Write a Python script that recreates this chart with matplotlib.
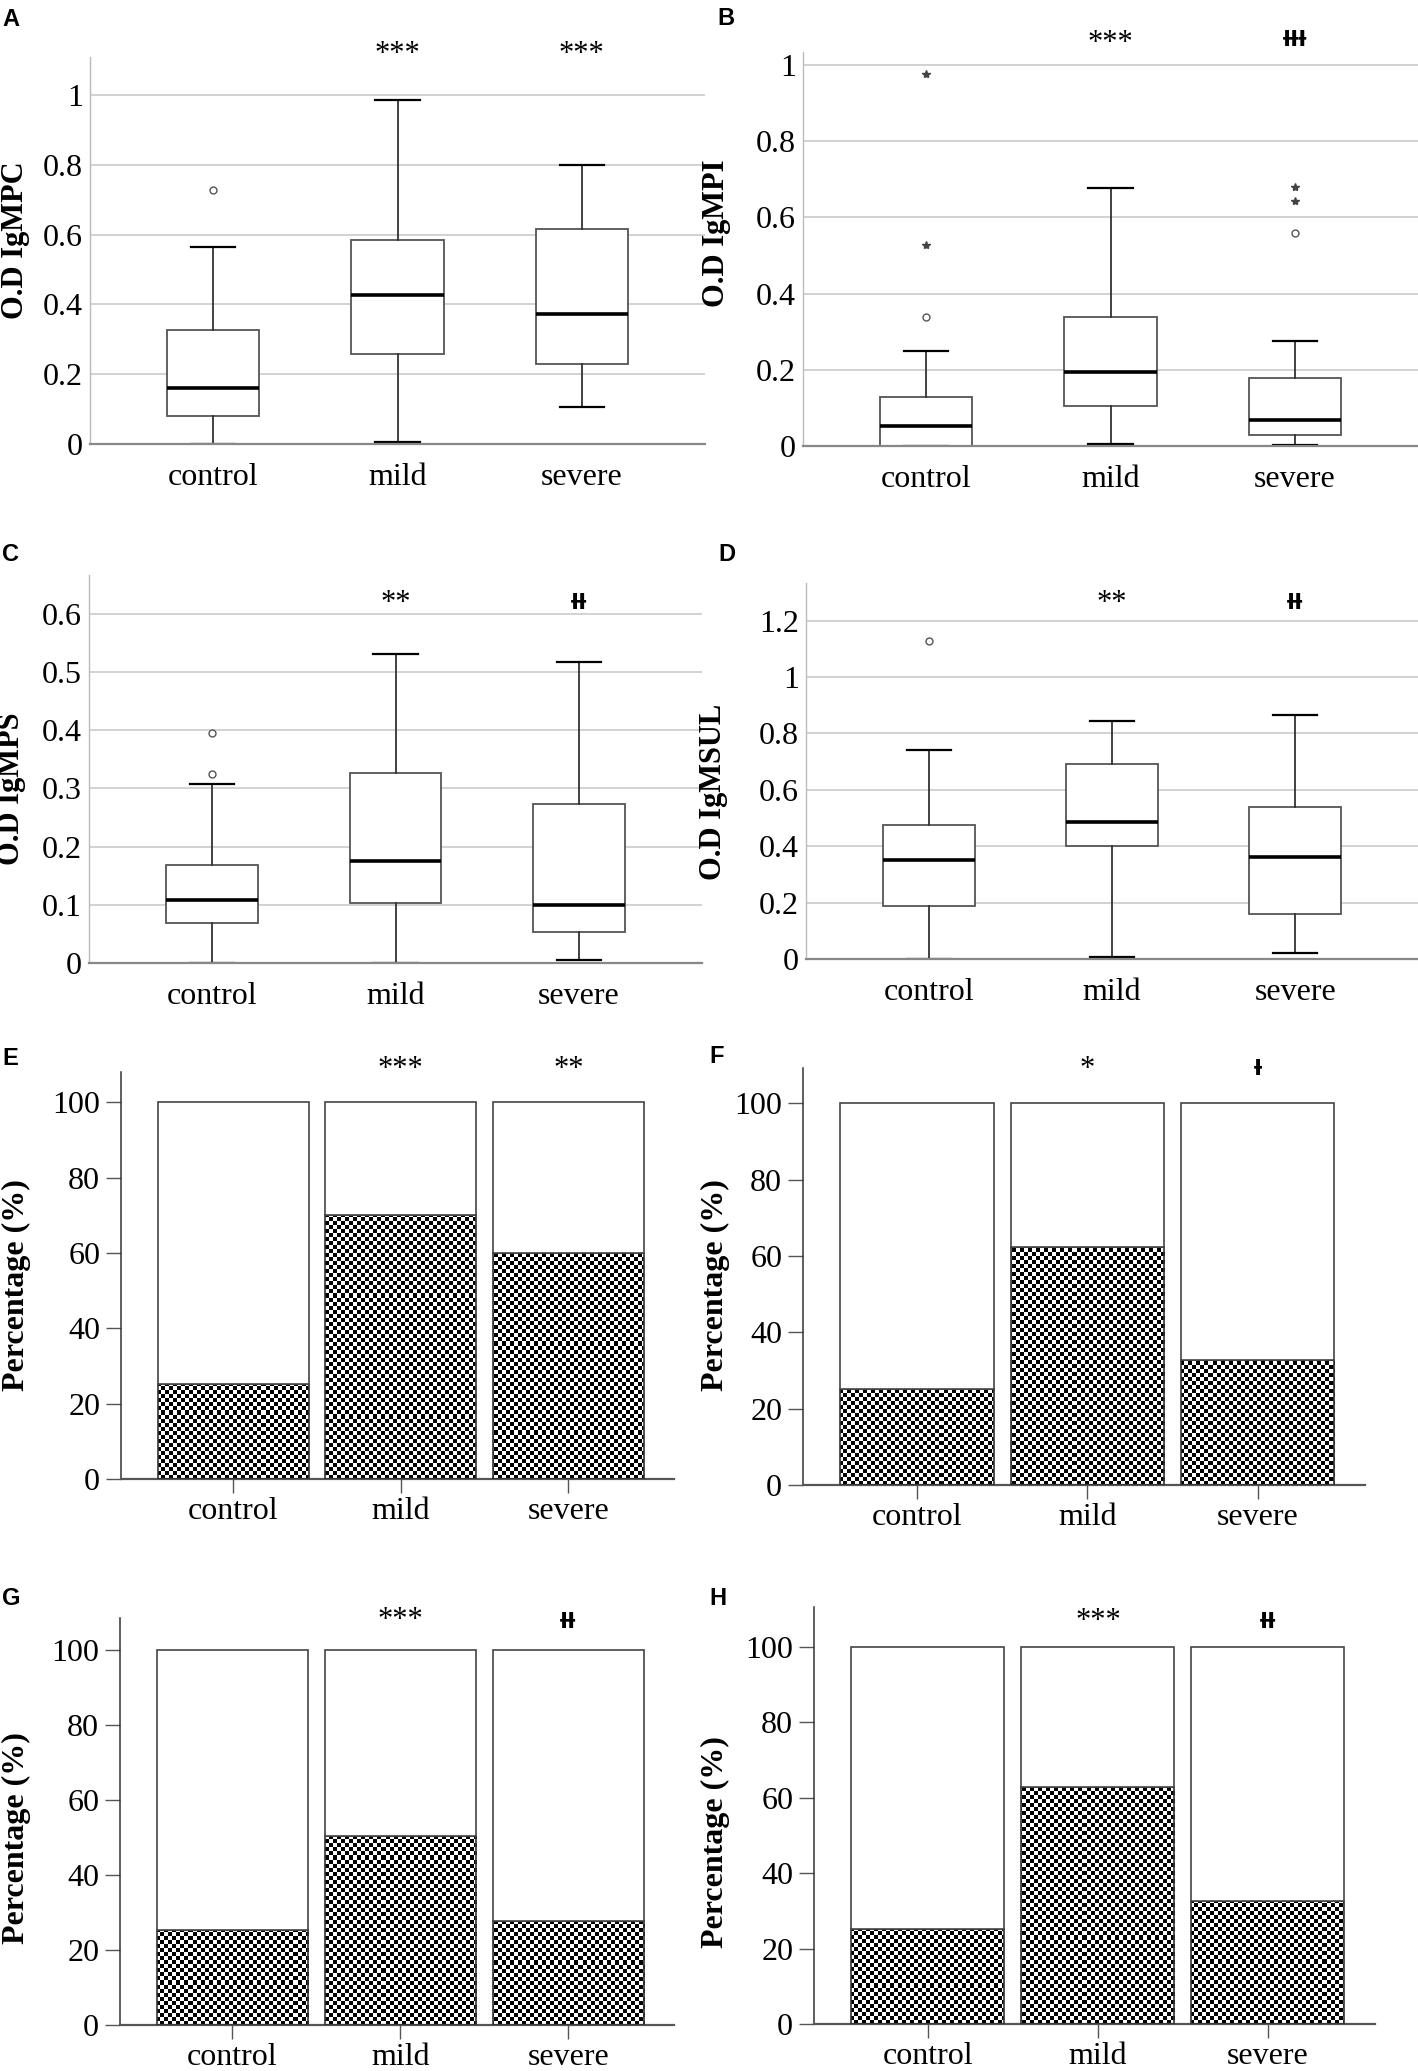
import matplotlib.pyplot as plt
import numpy as np

groups = ['control', 'mild', 'severe']

# A - IgMPC box summaries
mpc_lo = [0.0, 0.005, 0.107]
mpc_q1 = [0.081, 0.259, 0.228]
mpc_med = [0.160, 0.428, 0.373]
mpc_q3 = [0.326, 0.585, 0.617]
mpc_hi = [0.564, 0.985, 0.800]
mpc_circ = [[0.727], [], []]
mpc_star = [[], [], []]

# B - IgMPI
mpi_lo = [0.0, 0.004, 0.003]
mpi_q1 = [0.0, 0.106, 0.030]
mpi_med = [0.052, 0.193, 0.067]
mpi_q3 = [0.129, 0.339, 0.178]
mpi_hi = [0.249, 0.676, 0.276]
mpi_circ = [[0.339], [], [0.56]]
mpi_star = [[0.528, 0.977], [], [0.643, 0.68]]

# C - IgMPS
mps_lo = [0.0, 0.0, 0.005]
mps_q1 = [0.068, 0.103, 0.053]
mps_med = [0.109, 0.176, 0.099]
mps_q3 = [0.169, 0.326, 0.273]
mps_hi = [0.307, 0.532, 0.517]
mps_circ = [[0.325, 0.395], [], []]
mps_star = [[], [], []]

# D - IgMSUL
msul_lo = [0.0, 0.006, 0.02]
msul_q1 = [0.187, 0.402, 0.16]
msul_med = [0.35, 0.487, 0.361]
msul_q3 = [0.474, 0.692, 0.54]
msul_hi = [0.741, 0.842, 0.864]
msul_circ = [[1.127], [], []]
msul_star = [[], [], []]

# E-H percentage of positives
pct_E = [25.2, 70.0, 60.0]
pct_F = [25.1, 62.4, 32.7]
pct_G = [25.2, 50.3, 27.7]
pct_H = [25.2, 62.9, 32.7]

sig_A = ['', '***', '***']
sig_B = ['', '***', 'ƗƗƗ']
sig_C = ['', '**', 'ƗƗ']
sig_D = ['', '**', 'ƗƗ']
sig_E = ['', '***', '**']
sig_F = ['', '*', 'Ɨ']
sig_G = ['', '***', 'ƗƗ']
sig_H = ['', '***', 'ƗƗ']

W, H = 1418, 2071
fig = plt.figure(figsize=(W / 100, H / 100), dpi=100)
serif = 'Liberation Serif'


def add_ax(left, right, top, bottom):
    return fig.add_axes([left / W, 1 - bottom / H, (right - left) / W, (bottom - top) / H])


def fmt(v):
    return '{:g}'.format(round(v, 2))


def put_sig(ax, sig, ys_star, ys_bar):
    for i, s in enumerate(sig):
        if not s:
            continue
        if '*' in s:
            ax.annotate(s, (i + 1, ys_star), xytext=(0, -6), textcoords='offset points',
                        ha='center', va='center', fontsize=22, family=serif,
                        annotation_clip=False)
        else:
            ax.text(i + 1, ys_bar, s, ha='center', va='center', fontsize=15,
                    family='DejaVu Sans', fontweight='bold', clip_on=False)


def box_panel(ax, lo, q1, med, q3, hi, circ, star, ymax, yticks, ylabel, labx, laby, sig, ys, yb):
    stats = []
    for i in range(3):
        stats.append(dict(whislo=lo[i], q1=q1[i], med=med[i], q3=q3[i], whishi=hi[i], fliers=[]))
    ax.bxp(stats, positions=[1, 2, 3], widths=0.5, capwidths=0.24, patch_artist=True,
           showfliers=False,
           boxprops=dict(facecolor='white', edgecolor='#555555', linewidth=1.3),
           medianprops=dict(color='black', linewidth=2.6),
           whiskerprops=dict(color='#333333', linewidth=1.3),
           capprops=dict(color='black', linewidth=1.6))
    for i in range(3):
        if circ[i]:
            ax.plot([i + 1] * len(circ[i]), circ[i], 'o', ms=5, mfc='white', mec='#555555',
                    mew=1.0, clip_on=False)
        if star[i]:
            ax.plot([i + 1] * len(star[i]), star[i], '*', ms=6, color='#444444', clip_on=False)
    ax.set_xlim(0.33, 3.67)
    ax.set_ylim(0, ymax)
    ax.set_yticks(yticks)
    ax.set_yticklabels([fmt(v) for v in yticks])
    ax.set_xticks([1, 2, 3])
    ax.set_xticklabels(groups)
    ax.yaxis.grid(True, color='#d2d2d2', linewidth=1.4)
    ax.set_axisbelow(True)
    ax.tick_params(axis='both', length=0, labelsize=23)
    ax.tick_params(axis='x', pad=14)
    ax.tick_params(axis='y', pad=5)
    for lab in ax.get_xticklabels() + ax.get_yticklabels():
        lab.set_family(serif)
    ax.spines['top'].set_visible(False)
    ax.spines['right'].set_visible(False)
    ax.spines['left'].set_color('#bbbbbb')
    ax.spines['left'].set_linewidth(1.0)
    ax.spines['bottom'].set_color('#888888')
    ax.spines['bottom'].set_linewidth(1.6)
    ax.set_ylabel(ylabel, fontsize=22, fontweight='bold', family=serif)
    ax.yaxis.set_label_coords(labx, laby)
    put_sig(ax, sig, ys, yb)


def bar_panel(ax, pct, ymax, labx, laby, sig, ys, yb):
    x = np.arange(1, 4)
    ax.set_xlim(0.33, 3.63)
    ax.set_ylim(0, ymax)
    pos = ax.get_position()
    nx = int(pos.width * W / 4)
    ny = int(pos.height * H / 4)
    checker = np.indices((ny, nx)).sum(axis=0) % 2
    pos_bars = ax.bar(x, pct, width=0.9, facecolor='none', edgecolor='#333333', linewidth=1.2, zorder=3)
    ax.bar(x, [100 - p for p in pct], bottom=pct, width=0.9, facecolor='white',
           edgecolor='#444444', linewidth=1.2, zorder=3)
    for b in pos_bars:
        im = ax.imshow(checker, extent=(0.33, 3.63, 0, ymax), origin='lower', cmap='gray',
                       vmin=0, vmax=1, interpolation='nearest', aspect='auto', zorder=2)
        im.set_clip_path(b)
    ax.set_xlim(0.33, 3.63)
    ax.set_ylim(0, ymax)
    ax.set_yticks([0, 20, 40, 60, 80, 100])
    ax.set_xticks(x)
    ax.set_xticklabels(groups)
    ax.tick_params(axis='both', labelsize=23, color='#555555', direction='out')
    ax.tick_params(axis='y', length=11, width=1.0, pad=4)
    ax.tick_params(axis='x', length=10, width=1.0, pad=3)
    for lab in ax.get_xticklabels() + ax.get_yticklabels():
        lab.set_family(serif)
    ax.spines['top'].set_visible(False)
    ax.spines['right'].set_visible(False)
    ax.spines['left'].set_color('#333333')
    ax.spines['left'].set_linewidth(1.1)
    ax.spines['bottom'].set_color('#555555')
    ax.spines['bottom'].set_linewidth(1.6)
    ax.set_ylabel('Percentage (%)', fontsize=23, fontweight='bold', family=serif)
    ax.yaxis.set_label_coords(labx, laby)
    put_sig(ax, sig, ys, yb)


axA = add_ax(90, 705, 57, 444)
box_panel(axA, mpc_lo, mpc_q1, mpc_med, mpc_q3, mpc_hi, mpc_circ, mpc_star, 1.109,
          [0, 0.2, 0.4, 0.6, 0.8, 1.0], 'O.D IgMPC', -0.098, 0.527, sig_A, 1.14, 1.14)

axB = add_ax(803, 1418, 52, 446)
box_panel(axB, mpi_lo, mpi_q1, mpi_med, mpi_q3, mpi_hi, mpi_circ, mpi_star, 1.034,
          [0, 0.2, 0.4, 0.6, 0.8, 1.0], 'O.D IgMPI', -0.117, 0.54, sig_B, 1.077, 1.066)

axC = add_ax(89, 702, 575, 963)
box_panel(axC, mps_lo, mps_q1, mps_med, mps_q3, mps_hi, mps_circ, mps_star, 0.667,
          [0, 0.1, 0.2, 0.3, 0.4, 0.5, 0.6], 'O.D IgMPS', -0.102, 0.45, sig_C, 0.632, 0.619)

axD = add_ax(806, 1418, 583, 959)
box_panel(axD, msul_lo, msul_q1, msul_med, msul_q3, msul_hi, msul_circ, msul_star, 1.333,
          [0, 0.2, 0.4, 0.6, 0.8, 1.0, 1.2], 'O.D IgMSUL', -0.127, 0.444, sig_D, 1.29, 1.262)

axE = add_ax(121, 674, 1072, 1479)
bar_panel(axE, pct_E, 108, -0.162, 0.477, sig_E, 111, 109)

axF = add_ax(803, 1365, 1068, 1485)
bar_panel(axF, pct_F, 109.2, -0.13, 0.48, sig_F, 111, 109)

axG = add_ax(120, 674, 1618, 2025)
bar_panel(axG, pct_G, 108.5, -0.16, 0.46, sig_G, 110, 107.5)

axH = add_ax(814, 1375, 1607, 2024)
bar_panel(axH, pct_H, 110.6, -0.15, 0.436, sig_H, 109, 106.6)

letters = [('A', 2, 8), ('B', 717, 7), ('C', 2, 543), ('D', 718, 543),
           ('E', 2, 1047), ('F', 709, 1045), ('G', 2, 1587), ('H', 709, 1587)]
for t, px, py in letters:
    fig.text(px / W, 1 - py / H, t, ha='left', va='top', fontsize=17, fontweight='bold',
             family='Liberation Sans')

fig.savefig('out.png', dpi=100)
